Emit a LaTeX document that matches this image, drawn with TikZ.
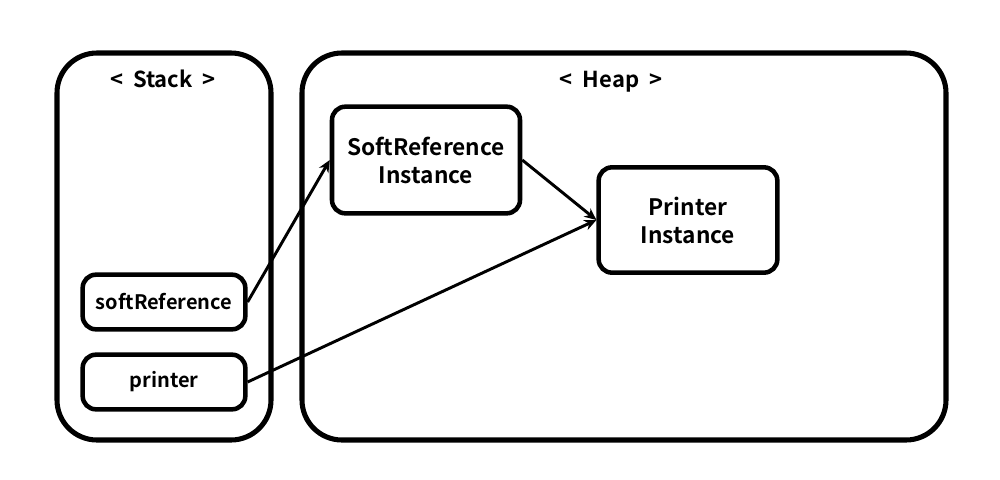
\documentclass[tikz,border=0pt]{standalone}
\usepackage{fontspec}
\setmainfont{Noto Sans CJK KR}[BoldFont={Noto Sans CJK KR Bold}]
\usetikzlibrary{arrows.meta}
\begin{document}
\begin{tikzpicture}[x=0.75pt,y=-0.75pt,
  outer/.style={draw,line width=3.8pt,rounded corners=30pt},
  obj/.style={draw,line width=3.4pt,rounded corners=10pt,font=\bfseries\fontsize{17}{21}\selectfont,align=center,inner sep=0pt},
  var/.style={obj,font=\bfseries\fontsize{15}{18}\selectfont},
  ref/.style={line width=2.2pt,-{Stealth[length=9pt,width=8pt]}},
  lbl/.style={font=\bfseries\fontsize{16.5}{20}\selectfont,anchor=base,inner sep=0pt}]
\useasboundingbox (0,0) rectangle (1000,479);
\draw[outer] (57,53) rectangle (271,440);
\draw[outer] (302,53) rectangle (946,440);
\node[lbl] (stk) at (163,87) {<\ \ Stack\ \ >};
\node[lbl] (hp) at (611,87) {<\ \ Heap\ \ >};
\node[obj,minimum width=141pt,minimum height=80pt] (sri) at (426,160) {SoftReference\\Instance};
\node[obj,minimum width=134pt,minimum height=79pt] (pri) at (688,220) {Printer\\Instance};
\node[var,minimum width=122pt,minimum height=41pt] (sr) at (164,302) {softReference};
\node[var,minimum width=122pt,minimum height=41pt] (pr) at (164,382) {printer};
\draw[ref] (sr.east) -- (sri.west);
\draw[ref] (sri.east) -- (pri.west);
\draw[ref] (pr.east) -- (pri.west);
\end{tikzpicture}
\end{document}
